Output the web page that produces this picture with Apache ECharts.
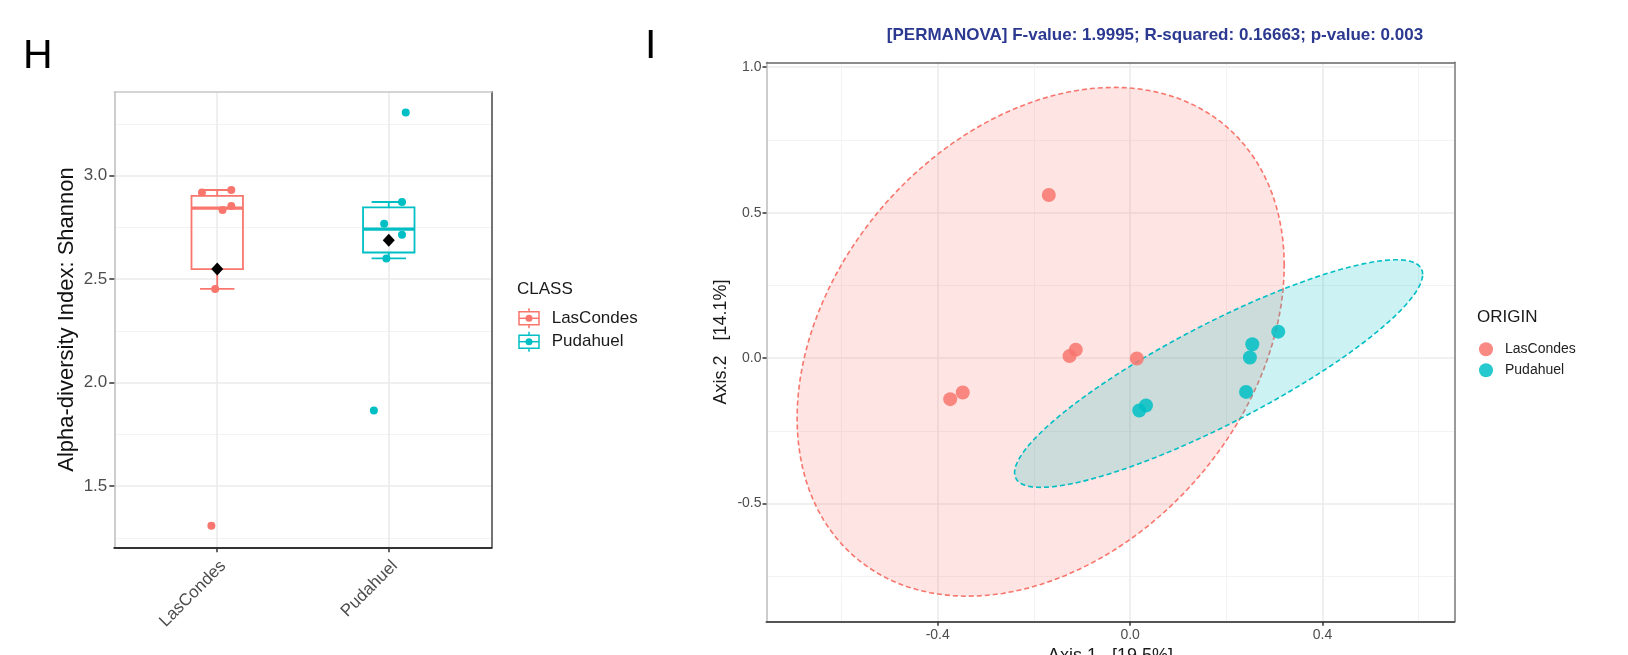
<!DOCTYPE html>
<html><head><meta charset="utf-8">
<script src="https://cdn.jsdelivr.net/npm/echarts@6/dist/echarts.min.js"></script>
<style>html,body{margin:0;padding:0;background:#fff}#c{width:1628px;height:655px}</style>
</head><body><div id="c"></div>
<script>
// ---------- Panel H : Shannon alpha diversity ----------
const classNames = ['LasCondes', 'Pudahuel'];
const shannonLasCondes = [2.919, 2.931, 2.834, 2.853, 2.453, 1.308];
const shannonPudahuel = [3.305, 2.873, 2.768, 2.715, 2.600, 1.865];
const jitterLasCondes = [-0.089, 0.082, 0.031, 0.082, -0.012, -0.034];
const jitterPudahuel = [0.099, 0.077, -0.027, 0.077, -0.014, -0.087];
const shannonTicks = [1.5, 2.0, 2.5, 3.0];
const shannonMinorTicks = [1.25, 1.75, 2.25, 2.75, 3.25];
const classPositions = [1, 2];

// ---------- Panel I : PCoA ----------
const originNames = ['LasCondes', 'Pudahuel'];
const axis1LasCondes = [-0.169, -0.113, -0.126, 0.014, -0.348, -0.374];
const axis2LasCondes = [0.561, 0.029, 0.007, -0.001, -0.118, -0.141];
const axis1Pudahuel = [0.308, 0.254, 0.249, 0.241, 0.033, 0.019];
const axis2Pudahuel = [0.091, 0.048, 0.002, -0.116, -0.163, -0.180];
const axis1Ticks = [-0.4, 0.0, 0.4];
const axis1MinorTicks = [-0.6, -0.2, 0.2, 0.6];
const axis2Ticks = [-0.5, 0.0, 0.5, 1.0];
const axis2MinorTicks = [-0.75, -0.25, 0.25, 0.75];
const permanovaText = '[PERMANOVA] F-value: 1.9995; R-squared: 0.16663; p-value: 0.003';
const axis1Title = 'Axis.1   [19.5%]';
const axis2Title = 'Axis.2   [14.1%]';
const shannonTitle = 'Alpha-diversity Index: Shannon';

const COLORS = ['#F8766D', '#00BFC4'];
const FILLS = ['rgba(248,118,109,0.2)', 'rgba(0,191,196,0.2)'];

// ---- statistics derived from the data ----
function quantile(arr, p) {
  const s = arr.slice().sort((a, b) => a - b);
  const h = (s.length - 1) * p, lo = Math.floor(h), hi = Math.ceil(h);
  return s[lo] + (h - lo) * (s[hi] - s[lo]);
}
function boxStats(arr) {
  const q1 = quantile(arr, 0.25), med = quantile(arr, 0.5), q3 = quantile(arr, 0.75);
  const iqr = q3 - q1;
  const inside = arr.filter(v => v >= q1 - 1.5 * iqr && v <= q3 + 1.5 * iqr);
  return [q1, med, q3, Math.min(...inside), Math.max(...inside)];
}
const mean = a => a.reduce((s, v) => s + v, 0) / a.length;

const shannonGroups = [shannonLasCondes, shannonPudahuel];
const jitterGroups = [jitterLasCondes, jitterPudahuel];
const boxData = shannonGroups.map((g, i) => [classPositions[i]].concat(boxStats(g)));
const meanData = shannonGroups.map((g, i) => [classPositions[i], mean(g)]);

// 95% normal confidence ellipse (as ggplot stat_ellipse type="norm")
function ellipsePts(xs, ys, level, n) {
  const k = xs.length, mx = mean(xs), my = mean(ys);
  let sxx = 0, syy = 0, sxy = 0;
  for (let i = 0; i < k; i++) {
    sxx += (xs[i] - mx) ** 2; syy += (ys[i] - my) ** 2; sxy += (xs[i] - mx) * (ys[i] - my);
  }
  sxx /= k - 1; syy /= k - 1; sxy /= k - 1;
  const d = k - 1;
  const qf = (d / 2) * (Math.pow(1 - level, -2 / d) - 1); // F(2,d) quantile
  const r = Math.sqrt(2 * qf);
  const a = Math.sqrt(sxx), b = sxy / a, c = Math.sqrt(syy - b * b);
  const pts = [];
  for (let j = 0; j < n; j++) {
    const t = 2 * Math.PI * j / n;
    pts.push([mx + r * Math.cos(t) * a, my + r * (Math.cos(t) * b + Math.sin(t) * c)]);
  }
  return pts;
}
const ellipses = [
  ellipsePts(axis1LasCondes, axis2LasCondes, 0.95, 120),
  ellipsePts(axis1Pudahuel, axis2Pudahuel, 0.95, 120)
];

const chart = echarts.init(document.getElementById('c'), null, {renderer: 'canvas'});

const FONT = 'Liberation Sans';
const tickLabelH = {fontSize: 17, color: '#4D4D4D', fontFamily: FONT};
const tickLabelI = {fontSize: 14, color: '#4D4D4D', fontFamily: FONT};

const option = {
  backgroundColor: '#fff',
  animation: false,
  grid: [
    {left: 114.3, top: 91.7, width: 377.4, height: 455.6, containLabel: false, outerBoundsMode: 'none'},
    {left: 766.5, top: 62.3, width: 687.8, height: 559.4, containLabel: false, outerBoundsMode: 'none'}
  ],
  title: {
    text: permanovaText, left: 1150, top: 22, textAlign: 'center',
    textStyle: {fontSize: 17, fontWeight: 'bold', color: '#2B3990', fontFamily: FONT}
  },
  legend: {
    orient: 'vertical', left: 1474, top: 337.3, itemWidth: 28, itemHeight: 14, itemGap: 7,
    icon: 'circle', data: originNames,
    textStyle: {fontSize: 14, color: '#222', fontFamily: FONT}
  },
  xAxis: [
    { gridIndex: 0, type: 'value', min: 0.4, max: 2.6, position: 'bottom',
      axisLine: {onZero: false, lineStyle: {color: '#333', width: 2}},
      axisTick: {customValues: classPositions, length: 5, lineStyle: {color: '#333', width: 1.5}},
      axisLabel: {customValues: classPositions, rotate: 45, margin: 10, verticalAlign: 'top',
        formatter: v => classNames[Math.round(v) - 1], ...tickLabelH},
      splitLine: {show: true, lineStyle: {color: '#EBEBEB', width: 1.6}} },
    { gridIndex: 0, type: 'value', min: 0.4, max: 2.6, position: 'top',
      axisLine: {onZero: false, lineStyle: {color: '#C8C8C8', width: 1.5}},
      axisTick: {show: false}, axisLabel: {show: false}, splitLine: {show: false} },
    { gridIndex: 1, type: 'value', min: -0.756, max: 0.674, position: 'bottom',
      axisLine: {onZero: false, lineStyle: {color: '#555', width: 2}},
      axisTick: {customValues: axis1Ticks, length: 4, lineStyle: {color: '#333', width: 1.5}},
      axisLabel: {customValues: axis1Ticks, formatter: v => v.toFixed(1), margin: 6, ...tickLabelI},
      splitLine: {show: true, lineStyle: {color: '#EBEBEB', width: 1.6}},
      name: axis1Title, nameLocation: 'middle', nameGap: 22,
      nameTextStyle: {fontSize: 18, color: '#1A1A1A', fontFamily: FONT} },
    { gridIndex: 1, type: 'value', min: -0.756, max: 0.674, position: 'top',
      axisLine: {onZero: false, lineStyle: {color: '#666', width: 1.5}},
      axisTick: {show: false, customValues: axis1MinorTicks}, axisLabel: {show: false},
      splitLine: {show: true, lineStyle: {color: '#F3F3F3', width: 1}} }
  ],
  yAxis: [
    { gridIndex: 0, type: 'value', min: 1.204, max: 3.406, position: 'left',
      axisLine: {show: true, onZero: false, lineStyle: {color: '#BDBDBD', width: 1.5}},
      axisTick: {show: true, customValues: shannonTicks, length: 5, lineStyle: {color: '#333', width: 1.5}},
      axisLabel: {customValues: shannonTicks, formatter: v => v.toFixed(1), margin: 7, ...tickLabelH},
      splitLine: {show: true, lineStyle: {color: '#EBEBEB', width: 1.6}},
      name: shannonTitle, nameLocation: 'middle', nameRotate: 90, nameGap: 36,
      nameTextStyle: {fontSize: 22, color: '#111', fontFamily: FONT} },
    { gridIndex: 0, type: 'value', min: 1.204, max: 3.406, position: 'right',
      axisLine: {show: true, onZero: false, lineStyle: {color: '#444', width: 1.5}},
      axisTick: {show: false, customValues: shannonMinorTicks}, axisLabel: {show: false},
      splitLine: {show: true, lineStyle: {color: '#F3F3F3', width: 1}} },
    { gridIndex: 1, type: 'value', min: -0.906, max: 1.017, position: 'left',
      axisLine: {show: true, onZero: false, lineStyle: {color: '#BDBDBD', width: 1.5}},
      axisTick: {show: true, customValues: axis2Ticks, length: 4, lineStyle: {color: '#333', width: 1.5}},
      axisLabel: {customValues: axis2Ticks, formatter: v => v.toFixed(1), margin: 5, ...tickLabelI},
      splitLine: {show: true, lineStyle: {color: '#EBEBEB', width: 1.6}},
      name: axis2Title, nameLocation: 'middle', nameRotate: 90, nameGap: 36,
      nameTextStyle: {fontSize: 18, color: '#1A1A1A', fontFamily: FONT} },
    { gridIndex: 1, type: 'value', min: -0.906, max: 1.017, position: 'right',
      axisLine: {show: true, onZero: false, lineStyle: {color: '#777', width: 1.5}},
      axisTick: {show: false, customValues: axis2MinorTicks}, axisLabel: {show: false},
      splitLine: {show: true, lineStyle: {color: '#F3F3F3', width: 1}} }
  ],
  series: [
    // boxplots
    { type: 'custom', name: 'box', xAxisIndex: 0, yAxisIndex: 0, z: 3,
      data: boxData, encode: {x: 0, y: [1, 2, 3, 4, 5]},
      renderItem: function (params, api) {
        const x = api.value(0), q1 = api.value(1), med = api.value(2), q3 = api.value(3),
              lo = api.value(4), hi = api.value(5);
        const col = COLORS[params.dataIndex];
        const boxHalf = 0.15, capHalf = 0.1;
        const tl = api.coord([x - boxHalf, q3]), br = api.coord([x + boxHalf, q1]);
        const mY = api.coord([x, med])[1];
        const cx = api.coord([x, q3])[0];
        const hiY = api.coord([x, hi])[1], loY = api.coord([x, lo])[1];
        const cl = api.coord([x - capHalf, hi])[0], cr = api.coord([x + capHalf, hi])[0];
        const st = {stroke: col, lineWidth: 1.8, fill: 'none'};
        return {type: 'group', children: [
          {type: 'line', shape: {x1: cx, y1: hiY, x2: cx, y2: tl[1]}, style: st},
          {type: 'line', shape: {x1: cx, y1: br[1], x2: cx, y2: loY}, style: st},
          {type: 'line', shape: {x1: cl, y1: hiY, x2: cr, y2: hiY}, style: st},
          {type: 'line', shape: {x1: cl, y1: loY, x2: cr, y2: loY}, style: st},
          {type: 'rect', shape: {x: tl[0], y: tl[1], width: br[0] - tl[0], height: br[1] - tl[1]}, style: st},
          {type: 'line', shape: {x1: tl[0], y1: mY, x2: br[0], y2: mY}, style: {stroke: col, lineWidth: 3.2}}
        ]};
      } },
    // jittered points
    ...shannonGroups.map((g, i) => ({
      type: 'scatter', name: 'CLASS ' + classNames[i], xAxisIndex: 0, yAxisIndex: 0, z: 4,
      symbolSize: 8, itemStyle: {color: COLORS[i], opacity: 1},
      data: g.map((v, j) => [classPositions[i] + jitterGroups[i][j], v])
    })),
    // means
    { type: 'scatter', name: 'mean', xAxisIndex: 0, yAxisIndex: 0, z: 5,
      symbol: 'diamond', symbolSize: [12, 13], itemStyle: {color: '#000', opacity: 1}, data: meanData },
    // ellipses
    { type: 'custom', name: 'ellipse', xAxisIndex: 2, yAxisIndex: 2, z: 2,
      data: [[0, 0], [0, 0]],
      renderItem: function (params, api) {
        const i = params.dataIndex;
        const pts = ellipses[i].map(p => api.coord(p));
        return {type: 'polygon', shape: {points: pts},
          style: {fill: FILLS[i], stroke: COLORS[i], lineWidth: 1.6, lineDash: [5, 3]}};
      } },
    // PCoA points
    { type: 'scatter', name: originNames[0], xAxisIndex: 2, yAxisIndex: 2, z: 4,
      symbolSize: 14, itemStyle: {color: COLORS[0], opacity: 0.85},
      data: axis1LasCondes.map((v, j) => [v, axis2LasCondes[j]]) },
    { type: 'scatter', name: originNames[1], xAxisIndex: 2, yAxisIndex: 2, z: 4,
      symbolSize: 14, itemStyle: {color: COLORS[1], opacity: 0.85},
      data: axis1Pudahuel.map((v, j) => [v, axis2Pudahuel[j]]) }
  ],
  graphic: [
    {type: 'text', left: 23, top: 36, style: {text: 'H', fontSize: 41, fill: '#000', fontFamily: FONT}},
    {type: 'text', left: 645, top: 26, style: {text: 'I', fontSize: 41, fill: '#000', fontFamily: FONT}},
    {type: 'text', x: 517, y: 289.3, style: {text: 'CLASS', fontSize: 17, fill: '#1A1A1A', fontFamily: FONT, verticalAlign: 'middle'}},
    {type: 'text', x: 1477, y: 317.7, style: {text: 'ORIGIN', fontSize: 17, fill: '#1A1A1A', fontFamily: FONT, verticalAlign: 'middle'}},
    ...classNames.map((n, i) => {
      const cy = 318.3 + i * 23.4, col = COLORS[i];
      const st = {stroke: col, lineWidth: 1.5, fill: 'none'};
      return {type: 'group', children: [
        {type: 'rect', shape: {x: 519, y: cy - 6.5, width: 20, height: 13}, style: st},
        {type: 'line', shape: {x1: 519, y1: cy, x2: 539, y2: cy}, style: st},
        {type: 'line', shape: {x1: 529, y1: cy - 10, x2: 529, y2: cy - 6.5}, style: st},
        {type: 'line', shape: {x1: 529, y1: cy + 6.5, x2: 529, y2: cy + 10}, style: st},
        {type: 'circle', shape: {cx: 529, cy: cy, r: 3.5}, style: {fill: col}},
        {type: 'text', x: 551.7, y: cy, style: {text: n, fontSize: 17, fill: '#1A1A1A', fontFamily: FONT, verticalAlign: 'middle'}}
      ]};
    })
  ]
};
chart.setOption(option);
</script></body></html>
